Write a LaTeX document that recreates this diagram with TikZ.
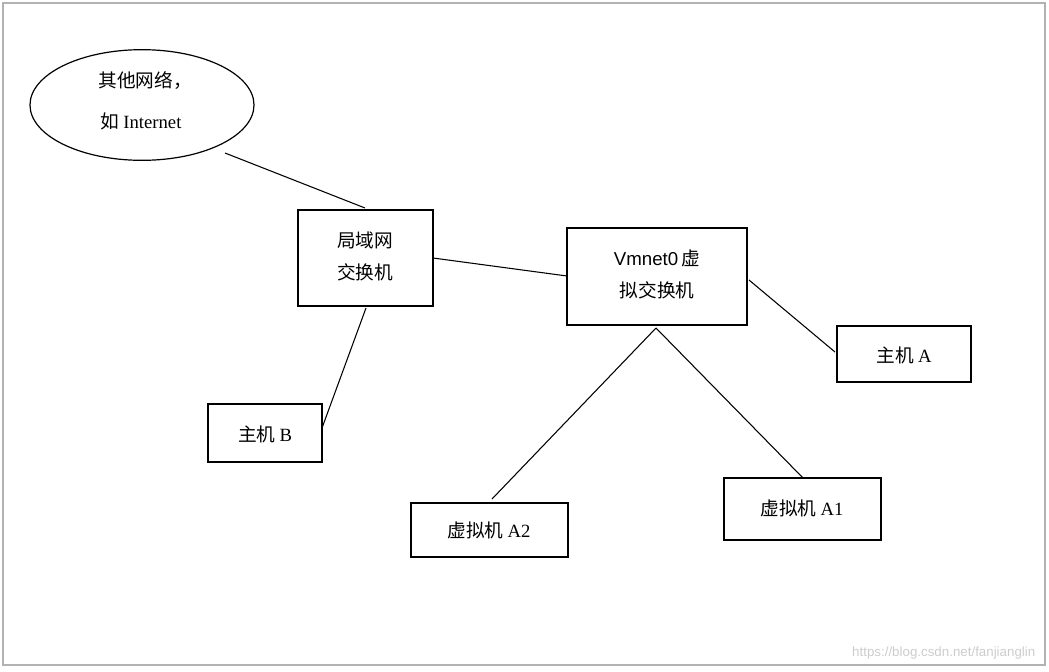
\documentclass[tikz,border=0pt]{standalone}
\usepackage{fontspec}
\setmainfont{Liberation Serif}
\newfontfamily\cjk{Noto Sans CJK SC}
\newfontfamily\sans{Liberation Sans}
\usetikzlibrary{shapes.geometric}
\begin{document}
\begin{tikzpicture}[x=0.75pt,y=-0.75pt,
  box/.style={draw,line width=0.9pt,minimum width=#1},
  ln/.style={line width=0.8pt},
  t/.style={font=\fontsize{14}{20}\selectfont,inner sep=0pt}]
\useasboundingbox (0,0) rectangle (1049,671);
\draw[gray!60,line width=0.8pt] (3,3) rectangle (1045,665);
\node[draw,ellipse,line width=0.9pt,minimum width=168pt,minimum height=83pt] (net) at (142,105) {};
\node[t] at (145,81) {\cjk 其他网络，};
\node[t] at (141,121) {\cjk 如\ \rmfamily Internet};
\draw[line width=0.9pt] (298,210) rectangle (433,306);
\node[t] (lan) at (365,258) {\begin{tabular}{c}\cjk 局域网\\[4pt]\cjk 交换机\end{tabular}};
\draw[line width=0.9pt] (567,228) rectangle (747,325);
\node[t] (vm) at (657,276) {\begin{tabular}{c}\sans Vmnet0\,\cjk 虚\\[4pt]\cjk 拟交换机\end{tabular}};
\draw[line width=0.9pt] (837,326) rectangle (971,382);
\node[t] (ha) at (904,355) {\cjk 主机\ \rmfamily A};
\draw[line width=0.9pt] (208,404) rectangle (322,462);
\node[t] (hb) at (265,434) {\cjk 主机\ \rmfamily B};
\draw[line width=0.9pt] (411,503) rectangle (568,557);
\node[t] (a2) at (489,530) {\cjk 虚拟机\ \rmfamily A2};
\draw[line width=0.9pt] (724,478) rectangle (881,540);
\node[t] (a1) at (802,508) {\cjk 虚拟机\ \rmfamily A1};
\coordinate (p1) at (225,153); \coordinate (p2) at (365,208);
\coordinate (p3) at (433,258); \coordinate (p4) at (567,276);
\coordinate (p5) at (366,308); \coordinate (p6) at (322,428);
\coordinate (p7) at (656,328); \coordinate (p8) at (492,499);
\coordinate (p9) at (803,478);
\coordinate (p10) at (749,280); \coordinate (p11) at (835,352);
\draw[ln] (p1)--(p2); \draw[ln] (p3)--(p4); \draw[ln] (p5)--(p6);
\draw[ln] (p7)--(p8); \draw[ln] (p7)--(p9); \draw[ln] (p10)--(p11);
\node[font=\sans\fontsize{10}{12}\selectfont,text=gray!40,anchor=east] (wm) at (1040,653) {https://blog.csdn.net/fanjianglin};
\end{tikzpicture}
\end{document}
